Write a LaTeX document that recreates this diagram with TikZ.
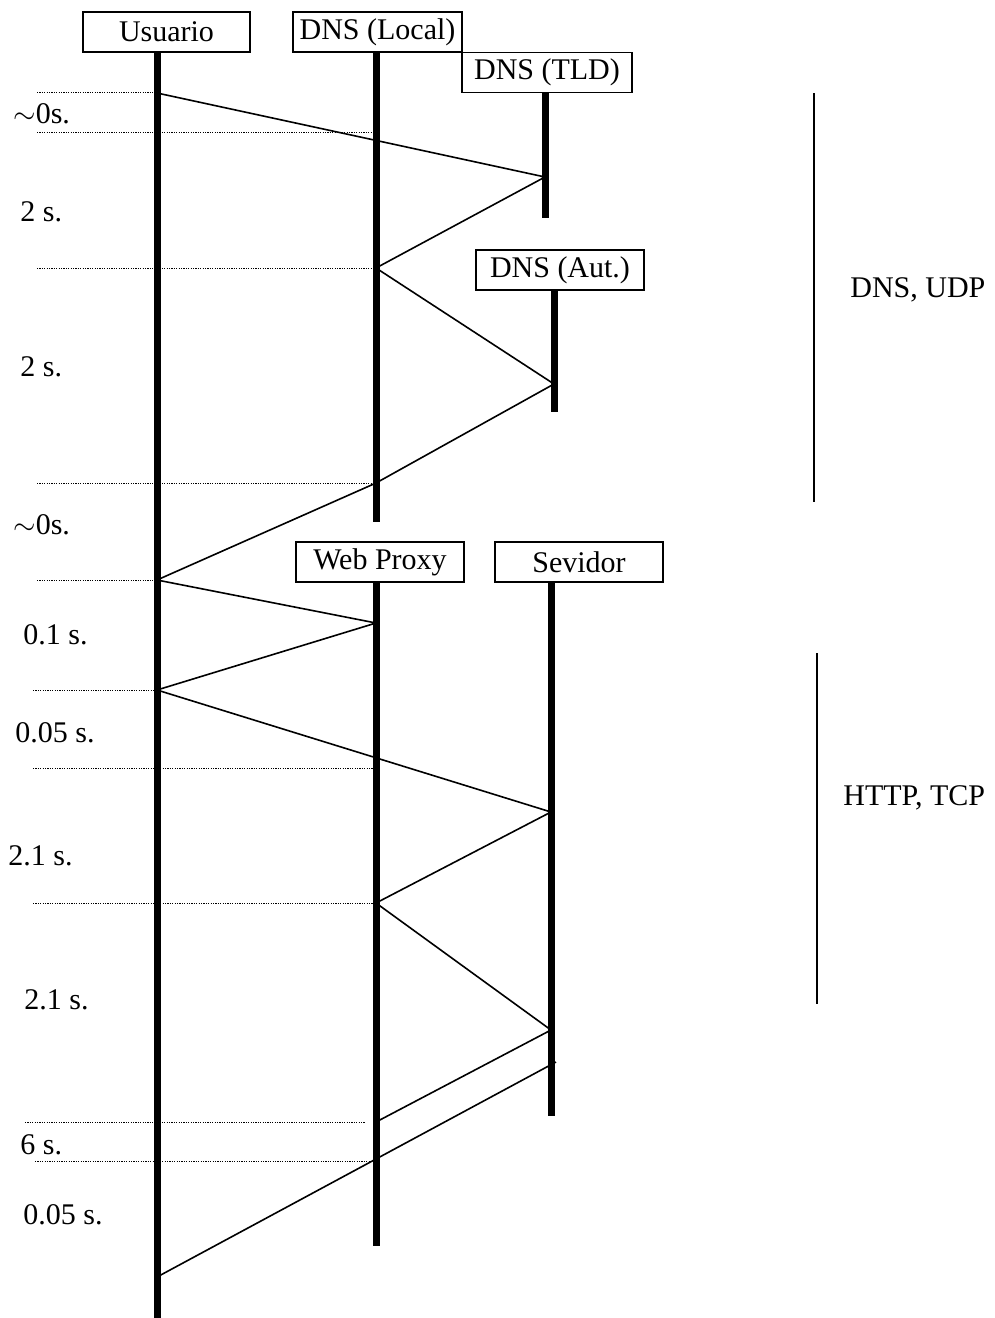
\documentclass[tikz,border=0pt]{standalone}
\usepackage{fontspec}
\setmainfont{Liberation Serif}
\usetikzlibrary{positioning}
\begin{document}
\begin{tikzpicture}[x=0.5pt,y=-0.5pt]
		% Define styles
		\tikzstyle{actor} = [draw, line width=0.7pt, inner sep=0pt, minimum height=20pt, font=\fontsize{15}{17}\selectfont];
		\tikzstyle{lifeline} = [line width=3.5pt];
		\tikzstyle{msg} = [line width=0.8pt];
		\tikzstyle{tick} = [line width=0.4pt, dash pattern=on 0.6pt off 0.6pt];
		\tikzstyle{delay} = [anchor=west, inner sep=0pt, font=\fontsize{15}{17}\selectfont];
		\tikzstyle{proto} = [line width=0.6pt];
		
		\useasboundingbox (0,0) rectangle (995,1318);
		
		% Actors
		\node[actor, minimum width=83.5pt] (usuario) at (166.5,32) {Usuario};
		\node[actor, minimum width=84.5pt] (dnslocal) at (377.5,32) {DNS (Local)};
		\node[actor, minimum width=85pt] (dnstld) at (547,72.5) {DNS (TLD)};
		\node[actor, minimum width=84pt] (dnsaut) at (560,270) {DNS (Aut.)};
		\node[actor, minimum width=84pt] (proxy) at (380,562) {Web Proxy};
		\node[actor, minimum width=84pt] (sevidor) at (579,562) {Sevidor};
		
		% Lifeline ends
		\coordinate (usuario top) at (157,52);
		\coordinate (usuario end) at (157,1318);
		\coordinate (dnslocal top) at (376,52);
		\coordinate (dnslocal end) at (376,522);
		\coordinate (dnstld top) at (545,93);
		\coordinate (dnstld end) at (545,218);
		\coordinate (dnsaut top) at (554,290);
		\coordinate (dnsaut end) at (554,412);
		\coordinate (proxy top) at (376,582);
		\coordinate (proxy end) at (376,1246);
		\coordinate (sevidor top) at (551,582);
		\coordinate (sevidor end) at (551,1116);
		
		\draw[lifeline] (usuario top) -- (usuario end);
		\draw[lifeline] (dnslocal top) -- (dnslocal end);
		\draw[lifeline] (dnstld top) -- (dnstld end);
		\draw[lifeline] (dnsaut top) -- (dnsaut end);
		\draw[lifeline] (proxy top) -- (proxy end);
		\draw[lifeline] (sevidor top) -- (sevidor end);
		
		% DNS messages
		\coordinate (q1) at (157,93);
		\coordinate (q2) at (545,177);
		\coordinate (q3) at (376,268);
		\coordinate (q4) at (554,384);
		\coordinate (q5) at (376,483);
		\coordinate (q6) at (157,580);
		\draw[msg] (q1) -- (q2) -- (q3) -- (q4) -- (q5) -- (q6);
		
		% HTTP messages
		\coordinate (h1) at (376,623);
		\coordinate (h2) at (157,690);
		\coordinate (h3) at (551,812);
		\coordinate (h4) at (376,903);
		\coordinate (h5) at (551,1030);
		\coordinate (h6) at (376,1122);
		\coordinate (h7) at (556,1062);
		\coordinate (h8) at (157,1277);
		\draw[msg] (q6) -- (h1) -- (h2) -- (h3) -- (h4) -- (h5) -- (h6);
		\draw[msg] (h7) -- (h8);
		
		% Time marks
		\foreach \y/\xa/\xb in {92/37/157, 132/37/376, 268/37/376, 483/37/376, 580/37/157,
			690/33/157, 768/33/376, 903/33/376, 1122/25/365, 1161/35/376}
			\draw[tick] (\xa,\y) -- (\xb,\y);
		
		% Delays
		\node[delay] (t1) at (13,114) {$\sim$0s.};
		\node[delay] (t2) at (20,212) {2 s.};
		\node[delay] (t3) at (20,367) {2 s.};
		\node[delay] (t4) at (13,525) {$\sim$0s.};
		\node[delay] (t5) at (23,635) {0.1 s.};
		\node[delay] (t6) at (15,733) {0.05 s.};
		\node[delay] (t7) at (8,856) {2.1 s.};
		\node[delay] (t8) at (24,1000) {2.1 s.};
		\node[delay] (t9) at (20,1145) {6 s.};
		\node[delay] (t10) at (23,1215) {0.05 s.};
		
		% Protocols
		\coordinate (dnsudp top) at (814,93);
		\coordinate (dnsudp end) at (814,502);
		\draw[proto] (dnsudp top) -- (dnsudp end);
		\node[delay] (dnsudp) at (850,290) {DNS, UDP};
		\coordinate (httptcp top) at (817,653);
		\coordinate (httptcp end) at (817,1004);
		\draw[proto] (httptcp top) -- (httptcp end);
		\node[delay] (httptcp) at (843,798) {HTTP, TCP};
	\end{tikzpicture}
\end{document}
